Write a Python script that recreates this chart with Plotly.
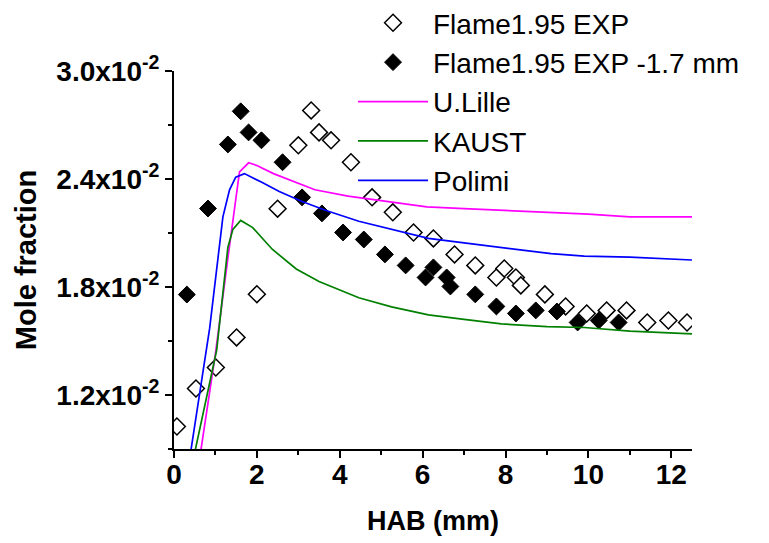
import plotly.graph_objects as go

# Experimental data (HAB in mm, mole fraction in units of 1e-2)
exp_x = [0.07, 0.53, 1.01, 1.51, 2.0, 2.5, 3.0, 3.31, 3.5, 3.79, 4.27, 4.78, 5.28, 5.78,
         6.26, 6.77, 7.27, 7.78, 7.97, 8.25, 8.37, 8.95, 9.45, 9.96, 10.44, 10.92,
         11.42, 11.93, 12.38]
exp_y = [1.025, 1.236, 1.353, 1.52, 1.76, 2.235, 2.587, 2.781, 2.659, 2.615, 2.493, 2.298,
         2.215, 2.103, 2.07, 1.981, 1.92, 1.853, 1.903, 1.853, 1.809, 1.759, 1.692, 1.653,
         1.67, 1.67, 1.603, 1.614, 1.603]

shift_x = [0.31, 0.82, 1.3, 1.61, 1.8, 2.11, 2.62, 3.09, 3.57, 4.08, 4.58, 5.09, 5.59,
           6.07, 6.26, 6.58, 6.67, 7.27, 7.78, 8.25, 8.73, 9.24, 9.74, 10.25, 10.73]
shift_y = [1.758, 2.236, 2.592, 2.776, 2.659, 2.615, 2.493, 2.298, 2.209, 2.103, 2.064,
           1.981, 1.92, 1.853, 1.909, 1.853, 1.803, 1.759, 1.692, 1.653, 1.67, 1.664,
           1.603, 1.614, 1.603]

# Models
lille_x = [0.64, 1.0, 1.3, 1.5, 1.58, 1.8, 2.0, 2.4, 3.0, 3.4, 4.2, 5.0, 6.1, 7.0, 8.0,
           9.0, 10.0, 11.0, 12.5]
lille_y = [0.88, 1.43, 1.96, 2.31, 2.44, 2.49, 2.475, 2.43, 2.375, 2.34, 2.305, 2.28,
           2.245, 2.235, 2.225, 2.215, 2.205, 2.19, 2.19]

kaust_x = [0.5, 0.8, 1.03, 1.3, 1.42, 1.61, 1.9, 2.37, 2.95, 3.5, 4.46, 5.25, 6.14, 7.0,
           7.9, 9.0, 9.9, 11.0, 12.5]
kaust_y = [0.88, 1.2, 1.45, 2.02, 2.12, 2.17, 2.13, 2.01, 1.9, 1.83, 1.74, 1.69, 1.645,
           1.62, 1.595, 1.58, 1.575, 1.555, 1.54]

polimi_x = [0.4, 0.86, 1.18, 1.34, 1.49, 1.7, 2.13, 2.54, 3.09, 3.67, 4.46, 5.25, 6.14,
            7.0, 7.9, 9.1, 9.9, 11.0, 12.5]
polimi_y = [0.88, 1.57, 2.19, 2.34, 2.41, 2.43, 2.38, 2.33, 2.275, 2.225, 2.165, 2.12,
            2.07, 2.045, 2.02, 1.985, 1.972, 1.966, 1.95]

y_ticks = [1.2, 1.8, 2.4, 3.0]
y_tick_text = ["1.2x10<sup>-2</sup>", "1.8x10<sup>-2</sup>", "2.4x10<sup>-2</sup>",
               "3.0x10<sup>-2</sup>"]

scale = 1e-2
fig = go.Figure()
fig.add_trace(go.Scatter(x=exp_x, y=[v * scale for v in exp_y], mode="markers",
                         name="Flame1.95 EXP", legendgroup="a",
                         marker=dict(symbol="diamond", size=13, color="white",
                                     line=dict(color="black", width=1.5))))
fig.add_trace(go.Scatter(x=shift_x, y=[v * scale for v in shift_y], mode="markers",
                         name="Flame1.95 EXP -1.7 mm", legendgroup="b",
                         marker=dict(symbol="diamond", size=13, color="black",
                                     line=dict(color="black", width=1))))
fig.add_trace(go.Scatter(x=lille_x, y=[v * scale for v in lille_y], mode="lines",
                         name="U.Lille", legendgroup="c",
                         line=dict(color="#ff00ff", width=1.7)))
fig.add_trace(go.Scatter(x=kaust_x, y=[v * scale for v in kaust_y], mode="lines",
                         name="KAUST", legendgroup="d",
                         line=dict(color="#008000", width=1.7)))
fig.add_trace(go.Scatter(x=polimi_x, y=[v * scale for v in polimi_y], mode="lines",
                         name="Polimi", legendgroup="e",
                         line=dict(color="#0000ff", width=1.7)))

fig.update_layout(
    width=761, height=535,
    margin=dict(l=166, r=77, t=63, b=94, autoexpand=False),
    plot_bgcolor="white", paper_bgcolor="white",
    font=dict(family="Liberation Sans, Arial, sans-serif", color="black"),
    legend=dict(x=0.3456, y=1.193, xanchor="left", yanchor="top",
                font=dict(size=28, color="black"), bgcolor="rgba(0,0,0,0)",
                tracegroupgap=0, itemwidth=70),
    xaxis=dict(range=[0, 12.5], dtick=2, tick0=0, showgrid=False, zeroline=False,
               showline=True, linecolor="black", linewidth=2,
               ticks="outside", ticklen=7, tickwidth=2, tickcolor="black",
               ticklabelstandoff=-8,
               minor=dict(dtick=1, tick0=0, ticks="outside", ticklen=4, tickwidth=2,
                          tickcolor="black"),
               tickfont=dict(size=28, family="Liberation Sans, Arial", weight="bold"),
               title=dict(text="<b>HAB (mm)</b>", font=dict(size=27), standoff=23)),
    yaxis=dict(range=[0.009, 0.030], tickmode="array",
               tickvals=[v * scale for v in y_ticks], ticktext=y_tick_text,
               showgrid=False, zeroline=False,
               showline=True, linecolor="black", linewidth=2,
               ticks="outside", ticklen=7, tickwidth=2, tickcolor="black",
               minor=dict(tickmode="linear", dtick=0.003, tick0=0, ticks="outside",
                          ticklen=4, tickwidth=2, tickcolor="black"),
               tickfont=dict(size=28, family="Liberation Sans, Arial", weight="bold"),
               title=dict(text="<b>Mole fraction</b>", font=dict(size=29), standoff=11)),
)

fig.write_html("out.html")
